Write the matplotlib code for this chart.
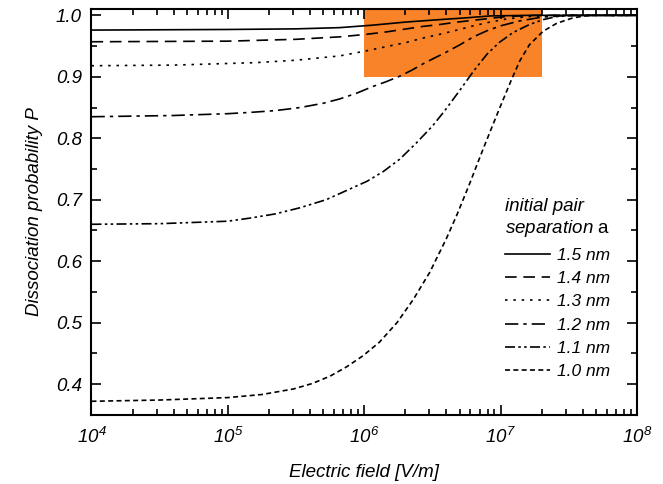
import numpy as np
import matplotlib.pyplot as plt

plt.rcParams['font.family'] = ['Liberation Sans', 'DejaVu Sans']
plt.rcParams['mathtext.fontset'] = 'custom'
plt.rcParams['mathtext.rm'] = 'Liberation Sans'
plt.rcParams['mathtext.it'] = 'Liberation Sans:italic'

# values: log10(E) vs dissociation probability
logE_15 = [4.0, 5.0, 5.5, 5.82, 6.06, 6.3, 6.55, 6.75, 6.92, 7.2, 8.0]
P_15 = [0.976, 0.977, 0.978, 0.980, 0.984, 0.989, 0.993, 0.996, 0.999, 1.0, 1.0]

logE_14 = [4.0, 5.0, 5.5, 5.82, 6.01, 6.16, 6.31, 6.43, 6.55, 6.68, 6.80, 6.92, 7.04, 7.25, 8.0]
P_14 = [0.957, 0.958, 0.961, 0.965, 0.969, 0.973, 0.978, 0.982, 0.985, 0.989, 0.992, 0.995, 0.998, 1.0, 1.0]

logE_13 = [4.0, 4.6, 5.2, 5.5, 5.82, 6.01, 6.16, 6.31, 6.43, 6.55, 6.68, 6.80, 6.92, 7.04, 7.2, 7.4, 8.0]
P_13 = [0.918, 0.919, 0.923, 0.927, 0.934, 0.942, 0.949, 0.956, 0.963, 0.969, 0.976, 0.983, 0.989, 0.994,
        0.998, 1.0, 1.0]

logE_12 = [4.0, 4.6, 5.0, 5.16, 5.35, 5.53, 5.7, 5.82, 5.94, 6.06, 6.16, 6.26, 6.35, 6.43, 6.5, 6.6,
           6.7, 6.8, 6.9, 7.0, 7.14, 7.3, 7.5, 8.0]
P_12 = [0.835, 0.837, 0.840, 0.842, 0.845, 0.850, 0.857, 0.864, 0.873, 0.884, 0.892, 0.901, 0.911, 0.921,
        0.929, 0.940, 0.952, 0.965, 0.975, 0.983, 0.991, 0.997, 1.0, 1.0]

logE_11 = [4.0, 4.5, 5.0, 5.16, 5.35, 5.53, 5.72, 5.89, 6.02, 6.14, 6.26, 6.38, 6.50, 6.59, 6.70, 6.80,
           6.90, 6.99, 7.09, 7.21, 7.31, 7.41, 7.55, 8.0]
P_11 = [0.660, 0.661, 0.665, 0.670, 0.677, 0.687, 0.700, 0.717, 0.730, 0.746, 0.766, 0.792, 0.820, 0.845,
        0.878, 0.909, 0.937, 0.956, 0.972, 0.985, 0.993, 0.998, 1.0, 1.0]

logE_10 = [4.0, 4.5, 5.0, 5.25, 5.48, 5.62, 5.75, 5.87, 5.99, 6.11, 6.24, 6.36, 6.48, 6.60, 6.68, 6.77,
           6.87, 6.99, 7.08, 7.14, 7.21, 7.31, 7.41, 7.53, 7.65, 8.0]
P_10 = [0.372, 0.374, 0.378, 0.383, 0.392, 0.401, 0.413, 0.428, 0.446, 0.468, 0.500, 0.538, 0.582, 0.636,
        0.676, 0.725, 0.782, 0.848, 0.896, 0.926, 0.952, 0.974, 0.987, 0.996, 1.0, 1.0]

labels = ['1.5 nm', '1.4 nm', '1.3 nm', '1.2 nm', '1.1 nm', '1.0 nm']
styles = ['-', (0, (7, 4)), (0, (1.5, 3.5)), (0, (8, 3, 2, 3)),
          (0, (6, 2, 1.5, 2, 1.5, 2)), (0, (3, 2))]

# highlighted region
box_E = [1e6, 2e7]
box_P = [0.9, 1.02]

fig = plt.figure(figsize=(6.63, 4.84), dpi=100)
ax = fig.add_axes([0.138, 0.143, 0.823, 0.838])

ax.fill_between(box_E, box_P[0], box_P[1], color='#F98329', lw=0, zorder=1)

series = [(logE_15, P_15), (logE_14, P_14), (logE_13, P_13),
          (logE_12, P_12), (logE_11, P_11), (logE_10, P_10)]
for (lx, p), lab, ls in zip(series, labels, styles):
    ax.plot(10 ** np.array(lx), p, color='black', lw=1.2, linestyle=ls, label=lab, zorder=2)

ax.set_xscale('log')
ax.set_xlim(1e4, 1e8)
ax.set_ylim(0.35, 1.01)
ax.set_yticks([0.4, 0.5, 0.6, 0.7, 0.8, 0.9, 1.0])
ax.set_yticks(np.arange(0.35, 1.01, 0.05), minor=True)
ax.set_yticklabels(['0.4', '0.5', '0.6', '0.7', '0.8', '0.9', '1.0'])

ax.tick_params(which='both', direction='in', top=True, right=True, width=1.2, zorder=5)
ax.tick_params(which='major', length=7, labelsize=13.5, pad=7)
ax.tick_params(axis='x', which='major', pad=9)
ax.tick_params(which='minor', length=4)
for lab in ax.get_xticklabels() + ax.get_yticklabels():
    lab.set_fontstyle('italic')
for s in ax.spines.values():
    s.set_linewidth(1.5)
    s.set_zorder(5)

ax.set_xlabel('Electric field [V/m]', fontsize=13.5, style='italic', labelpad=12)
ax.set_ylabel('Dissociation probability P', fontsize=13.5, style='italic', labelpad=9)

leg = ax.legend(loc='upper left', bbox_to_anchor=(0.729, 0.572), frameon=False,
                title='initial pair\nseparation $\\mathrm{a}$', fontsize=12.5,
                handlelength=2.6, handletextpad=0.4, labelspacing=0.47,
                alignment='left')
leg.get_title().set_fontsize(13.5)
leg.get_title().set_fontstyle('italic')
for t in leg.get_texts():
    t.set_fontstyle('italic')

fig.savefig('out.png', dpi=100)
